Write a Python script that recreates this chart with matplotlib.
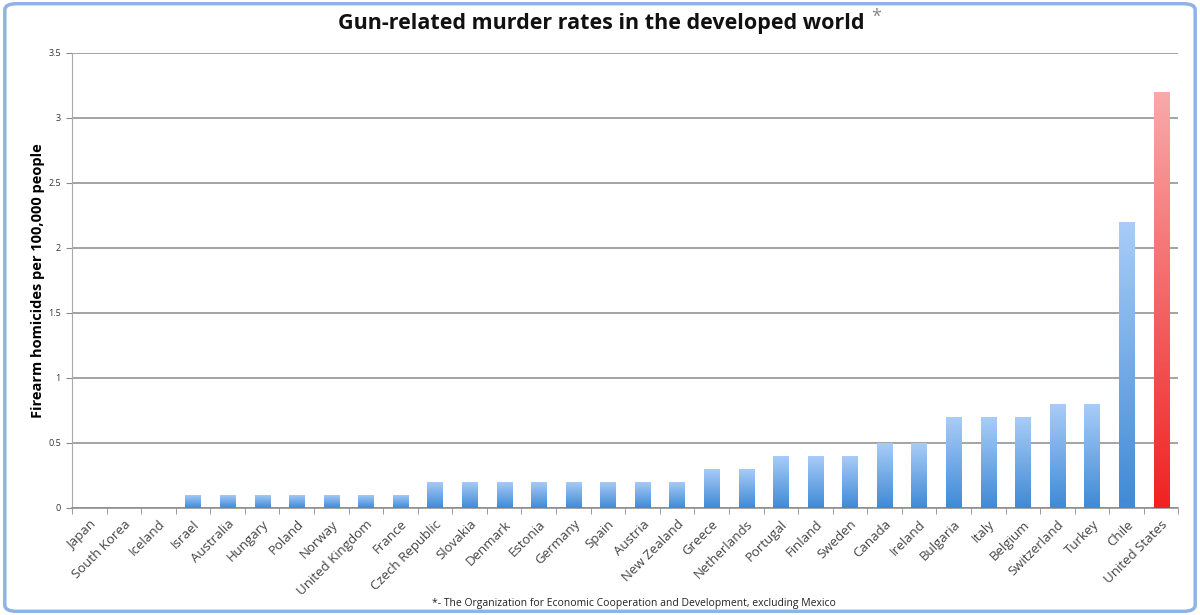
import numpy as np
import matplotlib.pyplot as plt
from matplotlib.patches import FancyBboxPatch
from matplotlib.colors import LinearSegmentedColormap

# Data
countries = ["Japan", "South Korea", "Iceland", "Israel", "Australia", "Hungary",
             "Poland", "Norway", "United Kingdom", "France", "Czech Republic",
             "Slovakia", "Denmark", "Estonia", "Germany", "Spain", "Austria",
             "New Zealand", "Greece", "Netherlands", "Portugal", "Finland",
             "Sweden", "Canada", "Ireland", "Bulgaria", "Italy", "Belgium",
             "Switzerland", "Turkey", "Chile", "United States"]
rates = [0, 0, 0, 0.1, 0.1, 0.1, 0.1, 0.1, 0.1, 0.1, 0.2, 0.2, 0.2, 0.2, 0.2,
         0.2, 0.2, 0.2, 0.3, 0.3, 0.4, 0.4, 0.4, 0.5, 0.5, 0.7, 0.7, 0.7, 0.8,
         0.8, 2.2, 3.2]
highlight = "United States"
y_ticks = [0, 0.5, 1, 1.5, 2, 2.5, 3, 3.5]

plt.rcParams['font.family'] = ['Open Sans', 'DejaVu Sans']

fig = plt.figure(figsize=(12, 6.15), dpi=100)
ax = fig.add_axes([0.06, 0.174, 0.922, 0.74])

# gradient colour maps (bottom -> top)
blue_cm = LinearSegmentedColormap.from_list("b", ["#3f8ad6", "#aacdf8"])
red_cm = LinearSegmentedColormap.from_list("r", ["#f02222", "#f8aaaa"])

x = np.arange(len(countries))
width = 0.44
bars = ax.bar(x, rates, width=width, color="none", edgecolor="none", zorder=3)
grad = np.linspace(0, 1, 256).reshape(-1, 1)
for bar, name in zip(bars, countries):
    h = bar.get_height()
    if h <= 0:
        continue
    x0 = bar.get_x()
    cm = red_cm if name == highlight else blue_cm
    im = ax.imshow(grad, cmap=cm, origin="lower", aspect="auto",
                   extent=[x0, x0 + bar.get_width(), 0, h], zorder=3)
    im.set_clip_path(bar)

ax.set_xlim(-0.5, len(countries) - 0.5)
ax.set_ylim(0, 3.5)
ax.set_yticks(y_ticks)
ax.set_yticklabels([f"{t:g}" for t in y_ticks], fontsize=6.5, color="#333333")
ax.yaxis.grid(True, color="#8a8a8a", linewidth=1.1, zorder=0)
ax.set_axisbelow(True)

ax.set_xticks(x)
ax.set_xticklabels(countries, rotation=45, ha="right", rotation_mode="anchor",
                   fontsize=9.5, color="#444444")
ax.tick_params(axis="x", length=0, pad=7)
ax.set_xticks(np.arange(-0.5, len(countries)), minor=True)
ax.tick_params(axis="x", which="minor", length=4, color="#8a8a8a", direction="out")
ax.tick_params(axis="y", length=4, color="#8a8a8a", pad=4)

for s in ["top", "right"]:
    ax.spines[s].set_visible(False)
ax.spines["left"].set_color("#aaaaaa")
ax.spines["bottom"].set_color("#8a8a8a")
ax.spines["bottom"].set_linewidth(1.1)

ax.set_ylabel("Firearm homicides per 100,000 people", fontsize=10.5,
              fontweight="bold")
ax.yaxis.set_label_coords(-0.024, 0.5)

fig.text(0.501, 0.962, "Gun-related murder rates in the developed world",
         ha="center", va="center", fontsize=15.5, fontweight="bold", color="#111111")
fig.text(0.726, 0.972, "*", ha="left", va="center", fontsize=13, color="#888888")
fig.text(0.528, 0.018,
         "*- The Organization for Economic Cooperation and Development, excluding Mexico",
         ha="center", va="center", fontsize=7.5, color="#222222")

# slide frame
frame = FancyBboxPatch((0.004, 0.006), 0.992, 0.988, boxstyle="round,pad=0,rounding_size=0.01",
                       transform=fig.transFigure, fill=False, edgecolor="#8fb4e3",
                       linewidth=2.5)
fig.patches.append(frame)

fig.savefig("out.png", dpi=100)
